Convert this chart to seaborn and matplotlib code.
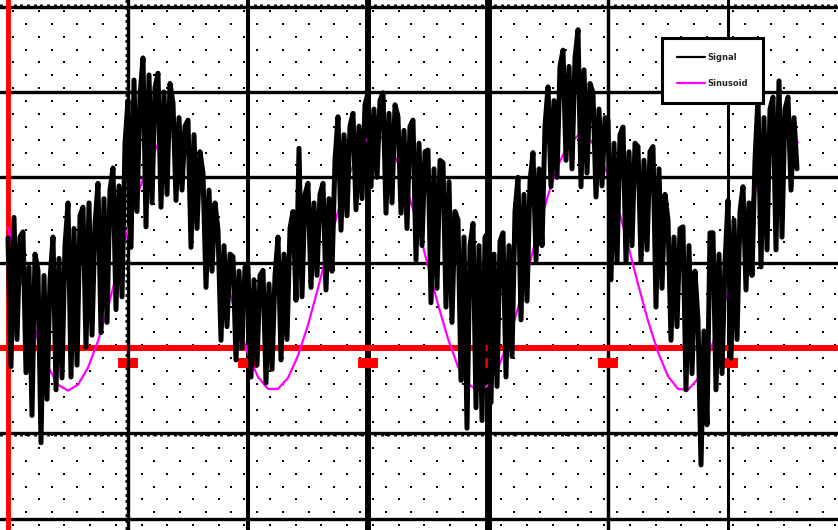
import numpy as np
import pandas as pd
import seaborn as sns
import matplotlib.pyplot as plt
from matplotlib.ticker import MultipleLocator, NullLocator

# measured trace, in divisions (red line = 0), one sample every 0.025 div
signal = [
    1.29, -0.22, 1.53, 0.10, 1.30,   1.36, -0.29, 0.95, -0.79, 1.10,
    0.91, -1.11, 0.85, -0.60, 0.80,  1.30, -0.49, 1.05, -0.35, 1.20,
    1.70, -0.34, 1.40, -0.20, 1.55,  1.65, 0.01, 1.70, 0.15, 1.45,
    1.93, 0.18, 1.75, 0.30, 1.85,    2.11, 0.45, 1.90, 0.60, 2.40,
    2.90, 1.18, 3.14, 1.60, 2.95,    3.40, 1.42, 3.20, 1.70, 3.05,
    3.22, 1.65, 3.00, 1.80, 3.10,    2.87, 1.73, 2.70, 1.85, 2.60,
    2.67, 1.18, 2.50, 1.40, 2.30,    2.05, 0.71, 1.85, 0.90, 1.70,
    1.38, 0.09, 1.20, 0.25, 1.10,    1.07, -0.14, 0.90, 0.00, 0.95,
    0.95, -0.34, 0.80, -0.20, 0.85,  0.91, -0.41, 0.75, -0.25, 0.85,
    1.30, -0.14, 1.10, 0.10, 1.40,   1.60, 0.56, 2.34, 0.60, 1.80,
    1.93, 0.71, 1.70, 0.85, 1.80,    1.93, 0.68, 1.75, 0.90, 2.20,
    2.71, 1.38, 2.50, 1.55, 2.60,    2.75, 1.62, 2.60, 1.75, 2.85,
    2.99, 1.89, 2.80, 2.00, 2.90,    2.99, 1.58, 2.75, 1.70, 2.85,
    2.71, 1.58, 2.55, 1.40, 2.60,    2.67, 1.03, 2.40, 1.20, 2.30,
    2.32, 0.53, 2.10, 0.70, 2.20,    2.17, 0.48, 1.95, 0.30, 1.60,
    1.50, -0.38, 1.30, -0.94, 1.20,  1.46, -0.70, 1.20, -0.85, 1.30,
    1.35, -0.64, 1.10, -0.45, 1.25,  1.35, -0.34, 1.20, -0.10, 1.60,
    2.00, 0.33, 1.80, 0.55, 1.95,    2.29, 1.03, 2.10, 1.20, 2.60,
    3.06, 1.89, 2.90, 2.00, 3.30,    3.49, 2.20, 3.30, 2.10, 3.40,
    3.73, 1.89, 3.26, 2.05, 3.10,    2.99, 1.77, 2.80, 1.90, 2.70,
    2.67, 0.80, 2.40, 1.00, 2.50,    2.59, 1.00, 2.30, 1.20, 2.40,
    2.36, 1.00, 2.20, 1.15, 2.30,    2.36, 0.48, 2.10, 0.70, 1.80,
    1.50, 0.09, 1.30, 0.25, 1.40,    1.42, -0.49, 1.20, -0.30, 0.90,
    0.33, -1.37, 0.20, -0.90, 1.35,  1.35, -0.49, 1.10, -0.30, 1.00,
    1.73, -0.12, 1.50, 0.10, 1.60,   1.89, 0.68, 1.70, 0.85, 2.20,
    2.94, 0.95, 2.70, 1.15, 2.80,    2.94, 1.15, 3.13, 1.30, 2.80,
    2.94, 1.85, 2.70, 2.10,
]
signal_dt = 0.025

# reference sinusoid, one sample every 1/12 div
sine = [
    1.41, 0.95, 0.50, 0.10, -0.22, -0.43, -0.50, -0.43, -0.23, 0.08,
    0.48, 0.93, 1.39, 1.81, 2.15, 2.39, 2.49, 2.46, 2.29, 2.01,
    1.62, 1.18, 0.73, 0.29, -0.07, -0.34, -0.48, -0.48, -0.35, -0.09,
    0.27, 0.70, 1.16, 1.60, 1.99, 2.28, 2.46, 2.50, 2.40, 2.17,
    1.83, 1.42, 0.96, 0.51, 0.11, -0.22, -0.42, -0.50, -0.44, -0.24,
    0.07, 0.47, 0.92, 1.37, 1.79, 2.14, 2.38, 2.49, 2.47, 2.31,
    2.02, 1.65, 1.21, 0.75, 0.32, -0.05, -0.33, -0.48, -0.49, -0.36,
    -0.11, 0.24, 0.67, 1.12, 1.57, 1.96, 2.26, 2.45, 2.50, 2.41,
]
sine_dt = 1 / 12

labels = ["Signal", "Sinusoid"]
trigger_marks = [1, 2, 3, 4, 5, 6, 7]

sig_df = pd.DataFrame({"t": np.arange(len(signal)) * signal_dt, "v": signal})
sin_df = pd.DataFrame({"t": np.arange(len(sine)) * sine_dt, "v": sine})

sns.set_style("white")
fig = plt.figure(figsize=(8.38, 5.30), dpi=100)
ax = fig.add_axes([0, 0, 1, 1])
ax.set_xlim(-8 / 120, 830 / 120)
ax.set_ylim(-182 / 85.33, 348 / 85.33)

# dotted graticule (fixed pixel pitch, checkerboard)
dx, dy = 25.7 / 120, 25.7 / 85.33
for x0, y0 in [(5 / 120, 337 / 85.33), (17.8 / 120, 324 / 85.33)]:
    gx, gy = np.meshgrid(np.arange(x0, 7, dx), np.arange(y0, -2.3, -dy))
    ax.scatter(gx.ravel(), gy.ravel(), s=3.5, marker="s", color="black", lw=0, zorder=1)

# major graticule lines
for t, w in zip([2, 3, 4, 5, 6], [2.9, 4.3, 5.0, 2.5, 2.2]):
    ax.axvline(t, color="black", lw=w, zorder=2)
for v in [1, 2, 3, -2]:
    ax.axhline(v, color="black", lw=2.4, zorder=2)
ax.axhline(0, color="red", lw=4.3, zorder=2)
ax.plot(trigger_marks, np.full(len(trigger_marks), -0.18), ls="none", color="red",
        marker=[(-1, -0.5), (1, -0.5), (1, 0.5), (-1, 0.5)], ms=14.5, mew=0, zorder=2)

# spines act as the tick-marked axes of the screen
ax.spines["left"].set_position(("data", 0))
ax.spines["left"].set_color("red")
ax.spines["left"].set_linewidth(3.5)
ax.spines["right"].set_position(("data", 1))
ax.spines["top"].set_position(("data", 4))
ax.spines["bottom"].set_position(("data", -1))
for s in ["right", "top", "bottom"]:
    ax.spines[s].set_color("black")
    ax.spines[s].set_linewidth(2.4)
    ax.spines[s].set_zorder(2)

ax.xaxis.set_major_locator(NullLocator())
ax.yaxis.set_major_locator(NullLocator())
ax.xaxis.set_minor_locator(MultipleLocator(6.67 / 120))
ax.yaxis.set_minor_locator(MultipleLocator(6.67 / 85.33))
ax.tick_params(axis="x", which="minor", top=True, bottom=True, direction="out",
               length=2.2, width=2, color="black", labelbottom=False)
ax.tick_params(axis="y", which="minor", left=False, right=True, direction="in",
               length=2.2, width=2, color="black", labelleft=False)

# traces
sns.lineplot(data=sig_df, x="t", y="v", color="black", lw=3.6, estimator=None,
             sort=False, label=labels[0], ax=ax, zorder=4)
sns.lineplot(data=sin_df, x="t", y="v", color="#ff00ff", lw=1.6, estimator=None,
             sort=False, label=labels[1], ax=ax, zorder=3)
ax.set_xlabel("")
ax.set_ylabel("")

leg = ax.legend(loc="upper left", bbox_to_anchor=(662 / 838, 1 - 38 / 530),
                bbox_transform=fig.transFigure, borderaxespad=0, fancybox=False,
                framealpha=1, edgecolor="black", prop={"size": 6, "weight": "bold"},
                handlelength=3.4, handletextpad=0.2, labelspacing=2.0, borderpad=1.8)
leg.get_frame().set_linewidth(2.2)
for line in leg.get_lines():
    line.set_linewidth(1.6)
leg.set_zorder(6)

fig.savefig("out.png", dpi=100)
